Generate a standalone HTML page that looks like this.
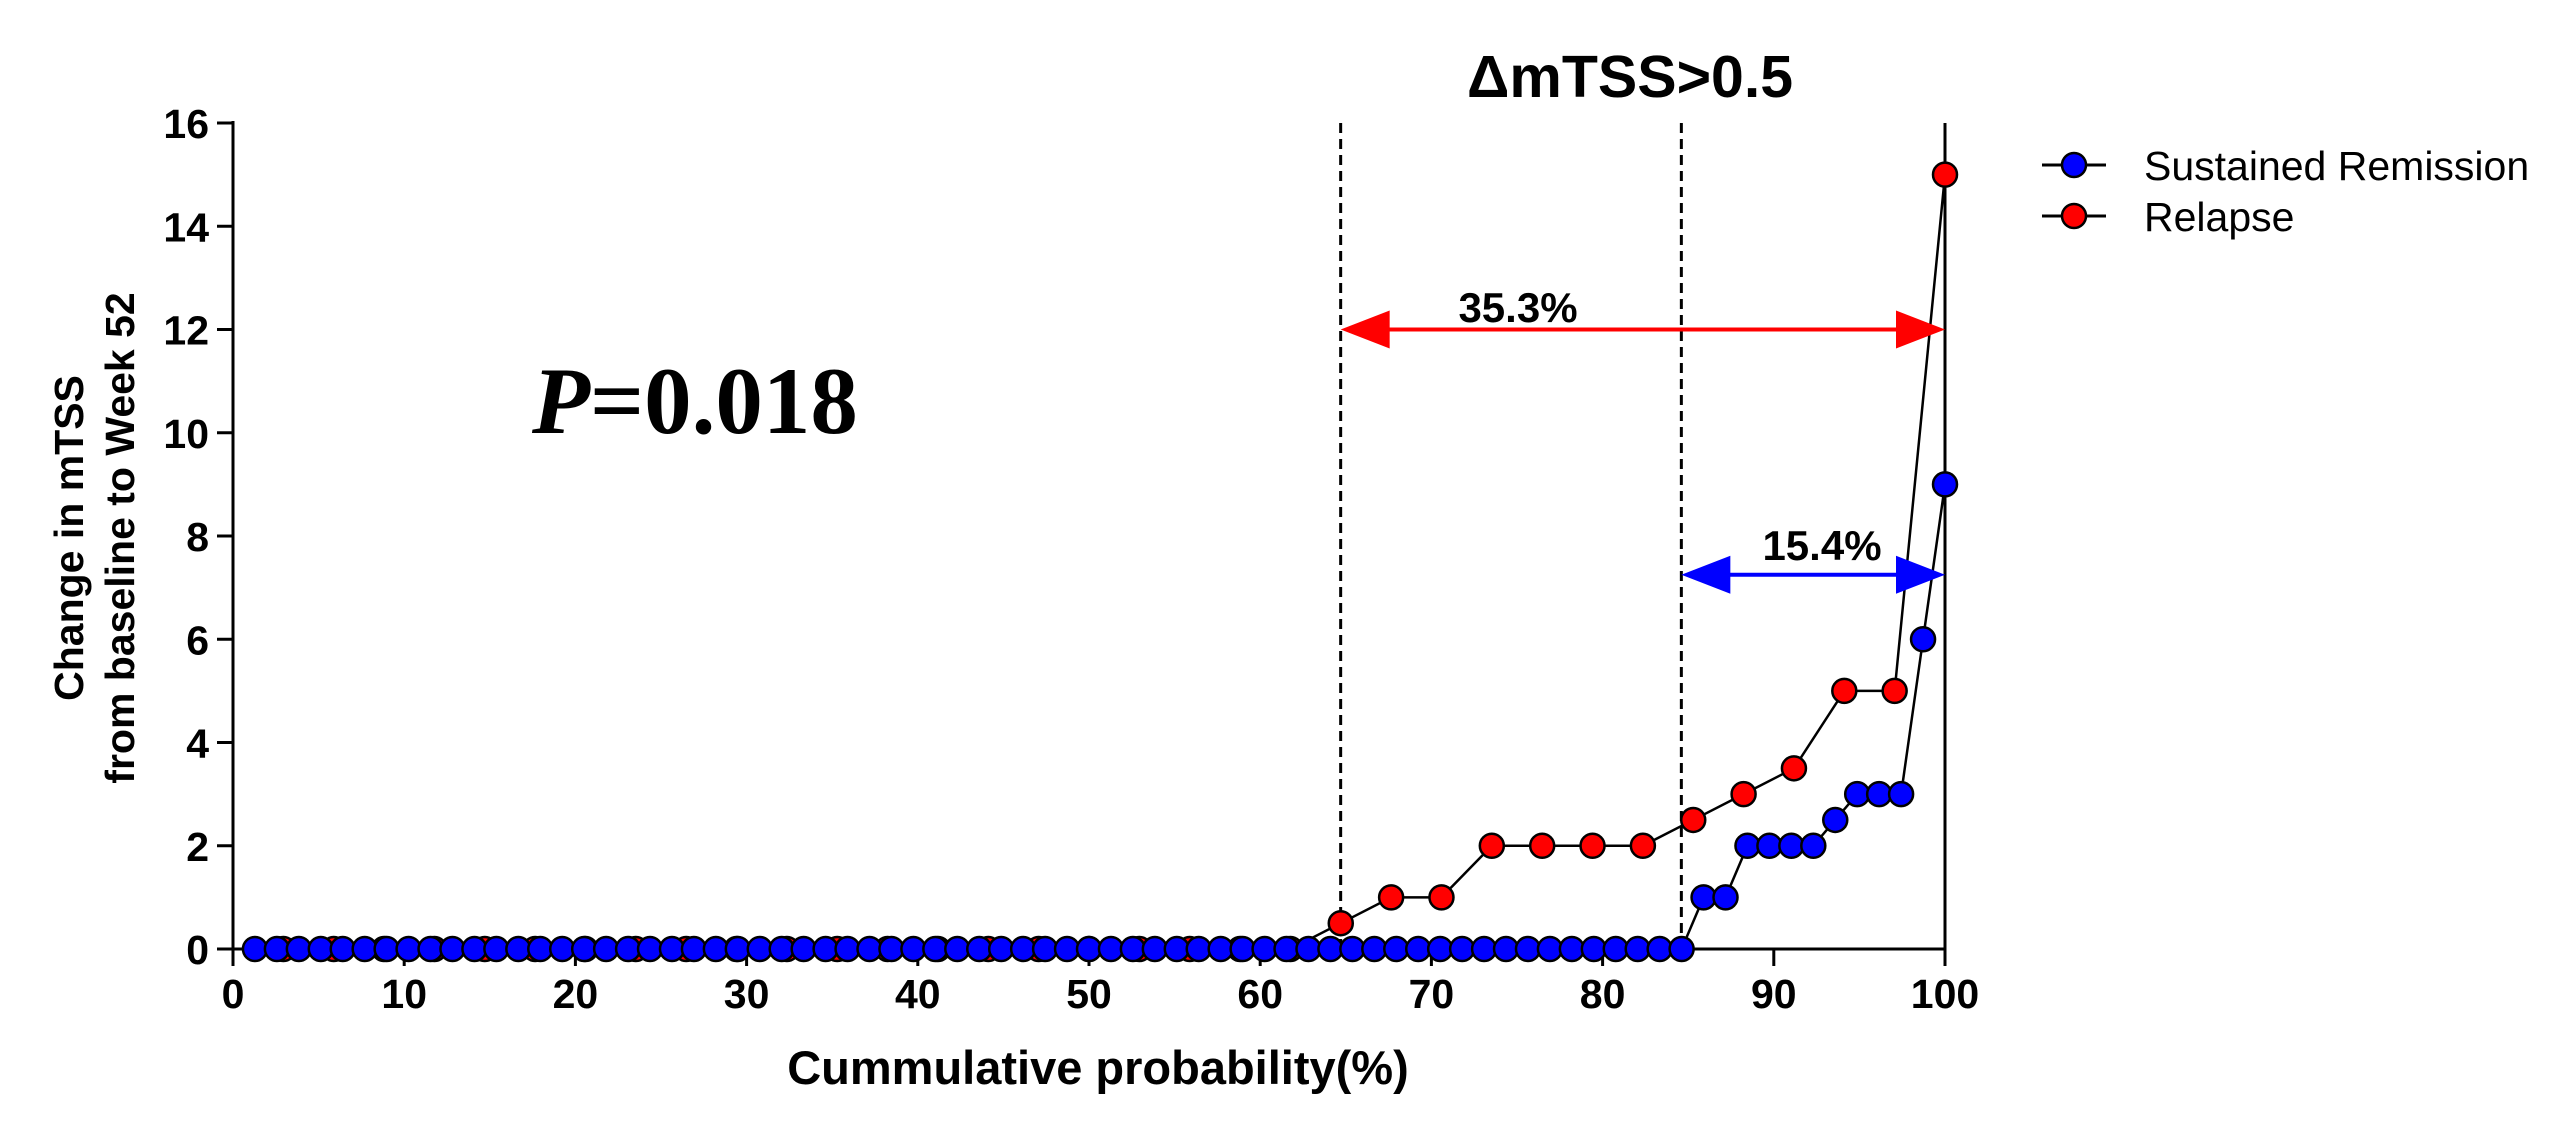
<!DOCTYPE html>
<html><head><meta charset="utf-8"><style>
html,body{margin:0;padding:0;background:#fff;width:2564px;height:1128px;overflow:hidden}
</style></head><body>
<svg id="chart" width="2564" height="1128" viewBox="0 0 2564 1128" xmlns="http://www.w3.org/2000/svg" font-family="Liberation Sans, sans-serif"></svg>
<script>
const xTicks = [0,10,20,30,40,50,60,70,80,90,100];
const yTicks = [0,2,4,6,8,10,12,14,16];
const blueNonZero = [1,1,2,2,2,2,2.5,3,3,3,6,9];
const blueZeroCount = 66;
const redNonZero = [0.5,1,1,2,2,2,2,2.5,3,3.5,5,5,15];
const redZeroCount = 21;
const thresholds = [64.7, 84.6];
const redArrow = {from:64.7, to:100, y:12, label:"35.3%"};
const blueArrow = {from:84.6, to:100, y:7.25, label:"15.4%"};

const X0=233, X1=1945, Y0=949, Y1=123;
const sx = v => X0 + (X1-X0)*v/100;
const sy = v => Y0 - (Y0-Y1)*v/16;
const svg = document.getElementById('chart');
const NS='http://www.w3.org/2000/svg';
function el(tag, attrs, parent){const e=document.createElementNS(NS,tag);for(const k in attrs)e.setAttribute(k,attrs[k]);(parent||svg).appendChild(e);return e;}

function buildSeries(zeros, nz){const vals=[];for(let i=0;i<zeros;i++)vals.push(0);return vals.concat(nz);}
const blueVals = buildSeries(blueZeroCount, blueNonZero);
const redVals = buildSeries(redZeroCount, redNonZero);

let a=el('line',{x1:X0,y1:Y1-2,x2:X0,y2:Y0+17,stroke:'#000','stroke-width':3});


a=el('line',{x1:X0-16,y1:Y0,x2:X1,y2:Y0,stroke:'#000','stroke-width':3});


a=el('line',{x1:X1,y1:Y1,x2:X1,y2:Y0+17,stroke:'#000','stroke-width':3});



xTicks.forEach(t=>{
  const x=sx(t);
  const tk=el('line',{x1:x,y1:Y0,x2:x,y2:Y0+17,stroke:'#000','stroke-width':3});
  
  
  const tx=el('text',{x:x,y:1008,'text-anchor':'middle','font-size':41,'font-weight':'bold'});
  tx.textContent=t;
  
  
});
yTicks.forEach(t=>{
  const y=sy(t);
  const tk=el('line',{x1:X0-16,y1:y,x2:X0,y2:y,stroke:'#000','stroke-width':3});
  
  
  const tx=el('text',{x:209,y:y+15,'text-anchor':'end','font-size':41,'font-weight':'bold'});
  tx.textContent=t;
  
  
});

thresholds.forEach(p=>{
  const l=el('line',{x1:sx(p),y1:Y1,x2:sx(p),y2:Y0,stroke:'#000','stroke-width':3,'stroke-dasharray':'10,6'});
  
  
});

function drawSeries(vals, color, name){
  const n=vals.length;
  const pts=vals.map((v,i)=>[sx(100*(i+1)/n), sy(v)]);
  const pl=el('polyline',{points:pts.map(p=>p.join(',')).join(' '),fill:'none',stroke:'#000','stroke-width':2.5});
  
  
  pts.forEach(p=>{
    const c=el('circle',{cx:p[0],cy:p[1],r:12,fill:color,stroke:'#000','stroke-width':2.5});
    
    
  });
}
drawSeries(redVals,'#ff0000','relapse');
drawSeries(blueVals,'#0000ff','sustained-remission');

function arrow(o,color,name,labelX,labelY){
  const y=sy(o.y), xa=sx(o.from), xb=sx(o.to);
  const l=el('line',{x1:xa+40,y1:y,x2:xb-40,y2:y,stroke:color,'stroke-width':4});
  
  
  const h1=el('polygon',{points:`${xa},${y} ${xa+49},${y-19} ${xa+49},${y+19}`,fill:color});
  
  
  const h2=el('polygon',{points:`${xb},${y} ${xb-49},${y-19} ${xb-49},${y+19}`,fill:color});
  
  
  const t=el('text',{x:labelX,y:labelY,'text-anchor':'middle','font-size':42,'font-weight':'bold'});
  t.textContent=o.label;
  
  
}
arrow(redArrow,'#ff0000','relapse',1518,322);
arrow(blueArrow,'#0000ff','sustained-remission',1822,560);
</script>
<svg style="position:absolute;left:0;top:0" width="2564" height="1128">
  <text x="1630" y="97" text-anchor="middle" style="font-size:59px;font-weight:bold;font-family:'Liberation Sans',sans-serif">ΔmTSS&gt;0.5</text>
  <text x="532" y="433" style="font-size:95px;font-weight:bold;font-family:'Liberation Serif',serif"><tspan style="font-style:italic">P</tspan>=0.018</text>
  <text x="1098" y="1084" text-anchor="middle" style="font-size:47px;font-weight:bold;font-family:'Liberation Sans',sans-serif">Cummulative probability(%)</text>
  <g transform="translate(0,538) rotate(-90)" text-anchor="middle" style="font-size:41px;font-weight:bold;font-family:'Liberation Sans',sans-serif">
    <text x="0" y="83">Change in mTSS</text>
    <text x="0" y="134">from baseline to Week 52</text>
  </g>
  <g style="font-family:'Liberation Sans',sans-serif;font-size:41px">
    <g>
      <line x1="2042" y1="165" x2="2106" y2="165" stroke="#000" stroke-width="3"/>
      <circle cx="2074" cy="165" r="12" fill="#0000ff" stroke="#000" stroke-width="2.5"/>
      <text x="2144" y="180">Sustained Remission</text>
    </g>
    <g>
      <line x1="2042" y1="216" x2="2106" y2="216" stroke="#000" stroke-width="3"/>
      <circle cx="2074" cy="216" r="12" fill="#ff0000" stroke="#000" stroke-width="2.5"/>
      <text x="2144" y="231">Relapse</text>
    </g>
  </g>
</svg>
</body></html>
